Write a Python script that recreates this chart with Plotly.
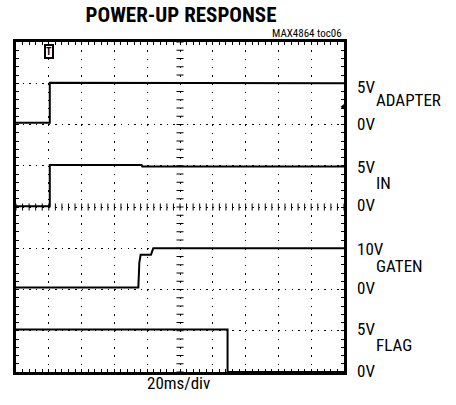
import numpy as np
import plotly.graph_objects as go

# ---- data (time in ms, 20 ms/div; voltages in V) ----
adapter_t = [0, 20.6, 20.6, 76.6, 77.0, 200]
adapter_v = [0.2, 0.2, 5.05, 5.05, 5.0, 5.0]

in_t = [0, 20.6, 20.6, 76.6, 77.0, 200]
in_v = [0.1, 0.1, 5.1, 5.1, 4.9, 4.9]

gaten_t = [0, 74.6, 75.2, 76.0, 82.3, 83.0, 83.7, 200]
gaten_v = [0.5, 0.5, 6.5, 8.4, 8.4, 9.6, 10.0, 10.0]

flag_t = [0, 129.0, 129.0, 200]
flag_v = [5.15, 5.15, 0, 0]

channel_names = ["ADAPTER", "IN", "GATEN", "FLAG"]
channel_offset = [6, 4, 2, 0]          # ground position in divisions
channel_scale = [5, 5, 10, 5]          # volts per division
channel_hi_label = ["5V", "5V", "10V", "5V"]
channel_lo_label = ["0V", "0V", "0V", "0V"]
label_y_hi = [6.90, 4.96, 2.99, 1.04]
label_y_name = [6.59, 4.58, 2.57, 0.655]
label_y_lo = [6.01, 4.05, 2.04, 0.024]

series_t = [adapter_t, in_t, gaten_t, flag_t]
series_v = [adapter_v, in_v, gaten_v, flag_v]

FONT = "Roboto Condensed, DejaVu Sans Condensed, sans-serif"

fig = go.Figure()

# graticule centre-line ticks
tx = np.arange(0, 200.01, 4)
ty = np.arange(0, 8.001, 0.2)
fig.add_trace(go.Scatter(x=tx, y=[4] * len(tx), mode="markers",
                         marker=dict(symbol="line-ns", size=5,
                                     line=dict(color="black", width=1)),
                         hoverinfo="skip", showlegend=False))
fig.add_trace(go.Scatter(x=[100] * len(ty), y=ty, mode="markers",
                         marker=dict(symbol="line-ew", size=5,
                                     line=dict(color="black", width=1)),
                         hoverinfo="skip", showlegend=False))

for name, t, v, off, sc in zip(channel_names, series_t, series_v,
                               channel_offset, channel_scale):
    fig.add_trace(go.Scatter(x=t, y=[off + val / sc for val in v],
                             mode="lines", name=name,
                             line=dict(color="black", width=2),
                             showlegend=False))

# ground marker at right edge
fig.add_trace(go.Scatter(x=[200], y=[6.43], mode="markers",
                         marker=dict(symbol="triangle-left", size=7, color="black"),
                         cliponaxis=False, showlegend=False, hoverinfo="skip"))

annotations = []
for i in range(4):
    annotations.append(dict(x=1.034, xref="paper", y=label_y_hi[i], yref="y",
                            text=channel_hi_label[i], showarrow=False,
                            xanchor="left", yanchor="middle",
                            font=dict(family=FONT, size=17, color="black")))
    annotations.append(dict(x=1.091, xref="paper", y=label_y_name[i], yref="y",
                            text=channel_names[i], showarrow=False,
                            xanchor="left", yanchor="middle",
                            font=dict(family=FONT, size=17, color="black")))
    annotations.append(dict(x=1.034, xref="paper", y=label_y_lo[i], yref="y",
                            text=channel_lo_label[i], showarrow=False,
                            xanchor="left", yanchor="middle",
                            font=dict(family=FONT, size=17, color="black")))

annotations.append(dict(x=(178 - 16) / 328, xref="paper", y=-11 / 330, yref="paper",
                        text="20ms/div", showarrow=False, yanchor="middle",
                        yshift=0, font=dict(family=FONT, size=17, color="black")))
annotations.append(dict(x=1.0, xref="paper", y=1.0, yref="paper",
                        text="MAX4864 toc06", showarrow=False,
                        xanchor="right", yanchor="bottom", yshift=0,
                        font=dict(family=FONT, size=11, color="black")))
annotations.append(dict(x=20, xref="x", y=7.78, yref="y",
                        text="<b>T</b>", showarrow=False,
                        bordercolor="black", borderwidth=2, borderpad=0,
                        bgcolor="white",
                        font=dict(family=FONT, size=10, color="black")))

fig.update_layout(
    width=456, height=405,
    margin=dict(l=16, r=112, t=42, b=33),
    paper_bgcolor="white", plot_bgcolor="white",
    title=dict(text="<b>POWER-UP RESPONSE</b>", x=181 / 456, xanchor="center",
               y=1 - 15 / 405, yanchor="middle",
               font=dict(family=FONT, size=21, color="black")),
    annotations=annotations,
)
fig.update_xaxes(range=[0, 200], dtick=20, showticklabels=False,
                 showgrid=True, gridcolor="black", gridwidth=1,
                 griddash="1.5px,6.75px", zeroline=False,
                 showline=True, linecolor="black", linewidth=3,
                 mirror="allticks", ticks="inside", ticklen=3,
                 tickcolor="black", tickwidth=1,
                 minor=dict(dtick=4, ticks="inside", ticklen=3,
                            tickcolor="black", showgrid=False),
                 fixedrange=True)
fig.update_yaxes(range=[0, 8], dtick=1, showticklabels=False,
                 showgrid=True, gridcolor="black", gridwidth=1,
                 griddash="1.5px,5.06px", zeroline=False,
                 showline=True, linecolor="black", linewidth=3,
                 mirror="allticks", ticks="inside", ticklen=3,
                 tickcolor="black", tickwidth=1,
                 minor=dict(dtick=0.2, ticks="inside", ticklen=3,
                            tickcolor="black", showgrid=False),
                 fixedrange=True)

fig.write_html("out.html", config={"displayModeBar": False},
               post_script="document.body.style.margin='0';")
